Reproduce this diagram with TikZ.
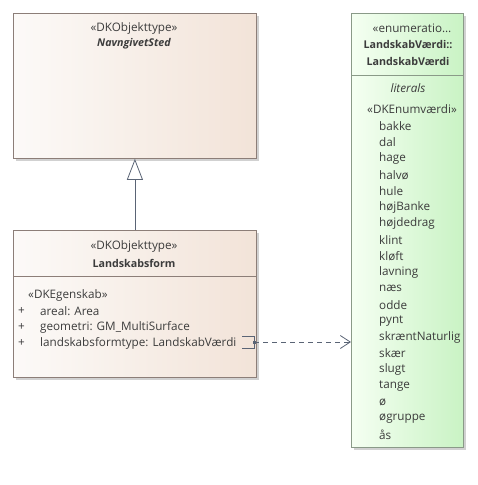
\documentclass[tikz,border=0pt]{standalone}
\usepackage{fontspec}
\setmainfont{Open Sans}
\usetikzlibrary{arrows.meta,shadows}
\definecolor{txt}{HTML}{3C3C3C}
\definecolor{bord}{HTML}{8C7E78}
\definecolor{begL}{HTML}{FCFAF8}
\definecolor{begR}{HTML}{F2E3D8}
\definecolor{grnL}{HTML}{F5FFF2}
\definecolor{grnR}{HTML}{C9F3C4}
\definecolor{gbord}{HTML}{8A9A88}
\definecolor{lnk}{HTML}{5A6475}
\tikzset{
  cls/.style={draw=bord, line width=0.8pt, left color=begL, right color=begR, anchor=north west, inner sep=0pt,
    drop shadow={shadow xshift=2.5pt, shadow yshift=-2.5pt, fill=black!30, opacity=0.6}},
  enm/.style={draw=gbord, line width=0.8pt, left color=grnL, right color=grnR, anchor=north west, inner sep=0pt,
    drop shadow={shadow xshift=2.5pt, shadow yshift=-2.5pt, fill=black!30, opacity=0.6}},
  t/.style={text=txt, font=\fontsize{11.7}{13}\selectfont, inner sep=0pt},
  tl/.style={t, anchor=west},
  tc/.style={t, anchor=center},
  tb/.style={tc, font=\fontsize{10.7}{13}\selectfont\bfseries},
}
\begin{document}
\begin{tikzpicture}[x=1pt,y=-1pt]
\useasboundingbox (0,0) rectangle (477,485);
% NavngivetSted
\node[cls, minimum width=243pt, minimum height=145pt] (ns) at (13,13) {};
\node[tc] (ns1) at (134,28) {«DKObjekttype»};
\node[tb, font=\fontsize{10.7}{13}\selectfont\bfseries\itshape] (ns2) at (134,44) {NavngivetSted};
% Landskabsform
\node[cls, minimum width=243pt, minimum height=147pt] (lf) at (13,230) {};
\draw[bord, line width=0.8pt] (13,276) -- (256,276);
\node[tc] (lf1) at (134,246) {«DKObjekttype»};
\node[tb] (lf2) at (134,263) {Landskabsform};
\node[tl] (lfs) at (28,295) {«DKEgenskab»};
\node[tl] (p1) at (18,311) {+};
\node[tl] (p2) at (18,327) {+};
\node[tl] (p3) at (18,343) {+};
\node[tl] (a1) at (40,311) {areal: Area};
\node[tl] (a2) at (40,327) {geometri: GM\_MultiSurface};
\node[tl] (a3) at (40,343) {landskabsformtype: LandskabVærdi};
% Enumeration
\node[enm, minimum width=112pt, minimum height=434pt] (en) at (351,13) {};
\draw[gbord, line width=0.8pt] (351,75) -- (463,75);
\node[tc] (e1) at (412,28) {«enumeratio…};
\node[tb] (e2) at (408,45) {LandskabVærdi::};
\node[tb] (e3) at (408,61) {LandskabVærdi};
\node[tc, font=\fontsize{11.7}{13}\selectfont\itshape] (e4) at (408,88) {literals};
\node[tl] (e5) at (367,109) {«DKEnumværdi»};
\foreach \w [count=\i from 0] in {bakke,dal,hage,halvø,hule,højBanke,højdedrag,klint,kløft,lavning,næs,odde,pynt,skræntNaturlig,skær,slugt,tange,ø,øgruppe,ås}
  \node[tl] (v\i) at (379,{126+16.25*\i}) {\w};
% generalization
\draw[lnk, line width=0.8pt, -{Triangle[open, length=21pt, width=16pt, fill=white]}] (lf.north -| ns.south) -- (ns.south);
% dependency
\coordinate (b0) at (254,342);
\draw[lnk, line width=0.8pt] (242,336) -- (254,336) -- (254,348) -- (242,348);
\fill[lnk] (252.5,340.5) rectangle (255.5,343.5);
\draw[lnk, line width=0.8pt, dash pattern=on 5pt off 4pt, -{Straight Barb[length=10pt, width=13pt]}] (b0) -- (b0 -| en.west);
\end{tikzpicture}
\end{document}
